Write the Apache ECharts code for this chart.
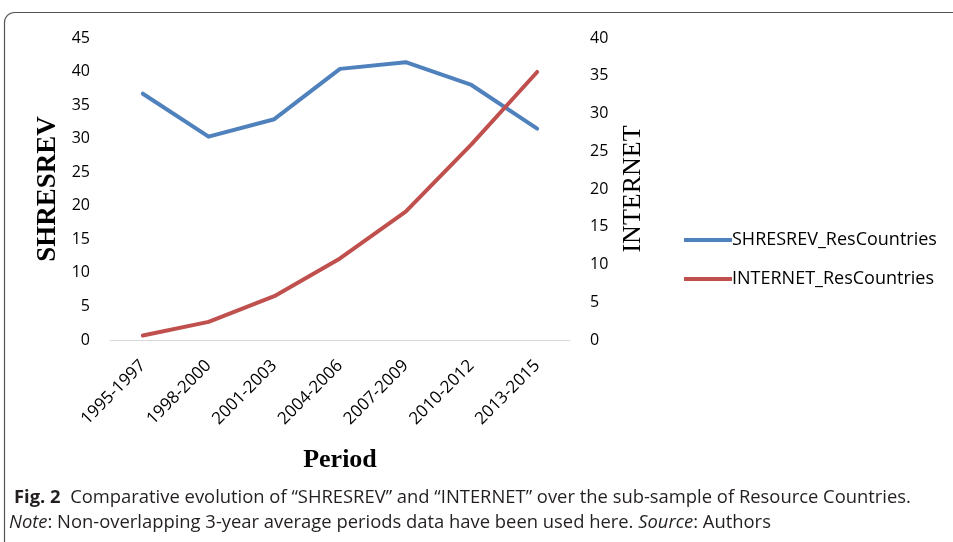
<!DOCTYPE html>
<html lang="en">
<head>
    <meta charset="UTF-8">
    <title>SHRESREV vs INTERNET</title>
    <script src="https://cdn.jsdelivr.net/npm/echarts@6/dist/echarts.min.js"></script>
    <style>
        html, body { margin: 0; padding: 0; background: #fff; }
    </style>
</head>
<body>
    <div id="main" style="width: 953px;height:542px;"></div>
    <script type="text/javascript">
        // data
        var periods = ['1995-1997', '1998-2000', '2001-2003', '2004-2006', '2007-2009', '2010-2012', '2013-2015'];
        var shresrev = [36.7, 30.3, 32.9, 40.4, 41.4, 38.0, 31.5];
        var internet = [0.6, 2.4, 5.8, 10.8, 17.0, 25.9, 35.5];

        var tickFont = 'Open Sans';
        var myChart = echarts.init(document.getElementById('main'));

        var option = {
            animation: false,
            color: ['#4F81BD', '#C0504D'],
            grid: {
                left: 110,
                right: 383,
                top: 38,
                bottom: 202,
                containLabel: false
            },
            legend: {
                orient: 'vertical',
                left: 679,
                top: 226,
                itemWidth: 48,
                itemHeight: 4,
                itemGap: 21,
                icon: 'rect',
                textStyle: { fontFamily: tickFont, fontSize: 18, color: '#000', padding: [0, 0, 0, -5] },
                data: ['SHRESREV_ResCountries', 'INTERNET_ResCountries']
            },
            xAxis: {
                type: 'category',
                data: periods,
                boundaryGap: true,
                axisLine: { lineStyle: { color: '#d9d9d9', width: 1 } },
                axisTick: { show: false },
                axisLabel: {
                    rotate: 45,
                    interval: 0,
                    margin: 23,
                    fontFamily: tickFont,
                    fontSize: 17,
                    color: '#000'
                },
                name: 'Period',
                nameLocation: 'middle',
                nameGap: 107,
                nameTextStyle: { fontFamily: 'Liberation Serif', fontWeight: 'bold', fontSize: 26, color: '#000' }
            },
            yAxis: [
                {
                    type: 'value',
                    min: 0, max: 45, interval: 5,
                    axisLine: { show: false },
                    axisTick: { show: false },
                    splitLine: { show: false },
                    axisLabel: { margin: 20, fontFamily: tickFont, fontSize: 16, color: '#000' },
                    name: 'SHRESREV',
                    nameLocation: 'middle',
                    nameRotate: 90,
                    nameGap: 48,
                    nameTextStyle: { fontFamily: 'Liberation Serif', fontWeight: 'bold', fontSize: 27, color: '#000' }
                },
                {
                    type: 'value',
                    min: 0, max: 40, interval: 5,
                    axisLine: { show: false },
                    axisTick: { show: false },
                    splitLine: { show: false },
                    axisLabel: { margin: 20, fontFamily: tickFont, fontSize: 16, color: '#000' },
                    name: 'INTERNET',
                    nameLocation: 'middle',
                    nameRotate: 90,
                    nameGap: 50,
                    nameTextStyle: { fontFamily: 'Liberation Serif', fontSize: 26, color: '#000' }
                }
            ],
            series: [
                {
                    name: 'SHRESREV_ResCountries',
                    type: 'line',
                    yAxisIndex: 0,
                    data: shresrev,
                    symbol: 'none',
                    lineStyle: { width: 4, cap: 'round', join: 'round' }
                },
                {
                    name: 'INTERNET_ResCountries',
                    type: 'line',
                    yAxisIndex: 1,
                    data: internet,
                    symbol: 'none',
                    lineStyle: { width: 4, cap: 'round', join: 'round' }
                }
            ],
            graphic: [
                {   // frame around the figure
                    type: 'rect',
                    shape: { x: 4.5, y: 12.5, width: 1000, height: 600, r: [10, 0, 0, 0] },
                    style: { fill: 'none', stroke: '#555', lineWidth: 1.2 },
                    silent: true
                },
                {
                    type: 'text',
                    left: 14,
                    top: 489,
                    style: {
                        text: '{b|Fig. 2}  Comparative evolution of \u201cSHRESREV\u201d and \u201cINTERNET\u201d over the sub-sample of Resource Countries.',
                        font: '18.4px "Open Sans"',
                        fill: '#231f20',
                        rich: {
                            b: { fontWeight: 'bold', fontSize: 18.4, fontFamily: 'Open Sans', fill: '#231f20' }
                        }
                    }
                },
                {
                    type: 'text',
                    left: 9,
                    top: 514,
                    style: {
                        text: '{i|Note}: Non-overlapping 3-year average periods data have been used here. {i|Source}: Authors',
                        font: '18.4px "Open Sans"',
                        fill: '#231f20',
                        rich: {
                            i: { fontStyle: 'italic', fontSize: 18.4, fontFamily: 'Open Sans', fill: '#231f20' }
                        }
                    }
                }
            ]
        };

        myChart.setOption(option);
    </script>
</body>
</html>
